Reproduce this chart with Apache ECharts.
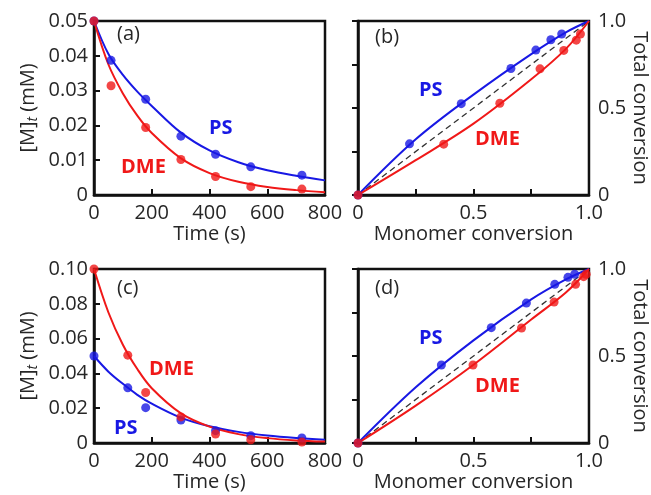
<!DOCTYPE html>
<html><head><meta charset="utf-8">
<script src="https://cdn.jsdelivr.net/npm/echarts@6/dist/echarts.min.js"></script>
<style>html,body{margin:0;padding:0;background:#fff}#c{width:651px;height:495px}</style>
</head><body><div id="c"></div>
<script>
// Panel (a): [M]t vs time
const timeA = [0, 59, 179, 301, 421, 543, 720];
const psA = [0.05, 0.0387, 0.0275, 0.0169, 0.0117, 0.0081, 0.0057];
const dmeA = [0.05, 0.0314, 0.0194, 0.0102, 0.0053, 0.0024, 0.0017];
const fitTime = [0, 50, 100, 150, 200, 300, 400, 500, 600, 700, 800];
const psFitA = [0.05, 0.0405, 0.0345, 0.0297, 0.0256, 0.0180, 0.0128, 0.0094, 0.0071, 0.0055, 0.0042];
const dmeFitA = [0.05, 0.0375, 0.0292, 0.0228, 0.0178, 0.0106, 0.0063, 0.0038, 0.0023, 0.0014, 0.0008];
// Panel (c)
const timeC = [0, 117, 179, 301, 421, 543, 720];
const psC = [0.05, 0.0317, 0.0203, 0.0132, 0.0071, 0.0042, 0.0029];
const dmeC = [0.10, 0.0505, 0.029, 0.015, 0.0052, 0.0019, 0.0006];
const psFitC = [0.05, 0.041, 0.034, 0.0277, 0.0226, 0.0146, 0.0096, 0.0064, 0.0043, 0.0029, 0.0019];
const dmeFitC = [0.10, 0.075, 0.0565, 0.0425, 0.0315, 0.0172, 0.0094, 0.0051, 0.0028, 0.0015, 0.0008];
// Panel (b): total conversion vs monomer conversion
const psBx = [0, 0.223, 0.447, 0.662, 0.770, 0.835, 0.882];
const psBy = [0, 0.294, 0.525, 0.727, 0.833, 0.892, 0.925];
const dmeBx = [0, 0.371, 0.614, 0.788, 0.891, 0.945, 0.963];
const dmeBy = [0, 0.292, 0.527, 0.725, 0.831, 0.890, 0.925];
const fitConv = [0, 0.25, 0.5, 0.75, 0.9, 1];
const psFitB = [0, 0.32, 0.577, 0.81, 0.935, 1];
const dmeFitB = [0, 0.20, 0.41, 0.665, 0.84, 1];
// Panel (d)
const psDx = [0, 0.361, 0.577, 0.729, 0.852, 0.909, 0.938];
const psDy = [0, 0.448, 0.663, 0.804, 0.912, 0.952, 0.970];
const dmeDx = [0, 0.498, 0.708, 0.849, 0.942, 0.977, 0.988];
const dmeDy = [0, 0.448, 0.661, 0.810, 0.912, 0.956, 0.970];
const psFitD = [0, 0.32, 0.59, 0.825, 0.94, 1];
const dmeFitD = [0, 0.215, 0.45, 0.71, 0.865, 1];
const diag = [0, 1];
const timeTicks = [0, 200, 400, 600, 800];
const convTicks = ['0', '0.5', '1.0'];

const BLUE = '#1818e4', RED = '#f01818', TXT = '#262626';
const FONT = '"Open Sans", sans-serif';
const zip = (a, b) => a.map((v, i) => [v, b[i]]);

const grids = [
  {left: 94, top: 21, width: 231, height: 174},
  {left: 358, top: 21, width: 231, height: 174},
  {left: 94, top: 269, width: 231, height: 174},
  {left: 358, top: 269, width: 231, height: 174}
].map(g => Object.assign(g, {show: true, borderColor: '#111', borderWidth: 2.5, backgroundColor: 'transparent'}));

const axisCommon = {
  axisLine: {show: true, lineStyle: {color: '#111', width: 2.5}},
  axisTick: {show: true, inside: true, length: 6, lineStyle: {color: '#111', width: 2}},
  splitLine: {show: false},
  axisLabel: {color: TXT, fontSize: 20, fontFamily: FONT},
  nameTextStyle: {color: TXT, fontSize: 20, fontFamily: FONT},
  nameLocation: 'middle'
};
const convFmt = v => Math.abs(v) < 1e-9 ? '0' : Math.abs(v - 0.5) < 1e-9 ? convTicks[1] : Math.abs(v - 1) < 1e-9 ? convTicks[2] : '';

function timeX(i) {
  return Object.assign({}, axisCommon, {type: 'value', gridIndex: i, min: timeTicks[0], max: timeTicks[timeTicks.length - 1], interval: timeTicks[1] - timeTicks[0],
    name: 'Time (s)', nameGap: 29, axisLabel: Object.assign({}, axisCommon.axisLabel, {margin: 8})});
}
function convX(i) {
  return Object.assign({}, axisCommon, {type: 'value', gridIndex: i, min: 0, max: 1, interval: 0.25,
    name: 'Monomer conversion', nameGap: 29, axisLabel: Object.assign({}, axisCommon.axisLabel, {margin: 8, formatter: convFmt})});
}
function concY(i, max, step) {
  return Object.assign({}, axisCommon, {type: 'value', gridIndex: i, min: 0, max: max, interval: step,
    name: '[M]{t|t} (mM)', nameGap: 54,
    nameTextStyle: Object.assign({}, axisCommon.nameTextStyle, {lineHeight: 24,
      rich: {t: {fontStyle: 'italic', fontSize: 14, fontFamily: FONT, color: TXT, verticalAlign: 'bottom', lineHeight: 14}}}),
    axisLabel: Object.assign({}, axisCommon.axisLabel, {margin: 6, formatter: v => v === 0 ? '0' : v.toFixed(2)})});
}
function convY(i) {
  return Object.assign({}, axisCommon, {type: 'value', gridIndex: i, min: 0, max: 1, interval: 0.25, position: 'right',
    name: 'Total conversion', nameGap: 38, nameRotate: -90,
    axisLabel: Object.assign({}, axisCommon.axisLabel, {margin: 9, formatter: convFmt})});
}

function fitLine(xi, data, color) {
  return {type: 'line', xAxisIndex: xi, yAxisIndex: xi, data: data, smooth: 0.35, showSymbol: false,
    lineStyle: {color: color, width: 2}, z: 3, silent: true};
}
function dots(xi, data, color) {
  return {type: 'scatter', xAxisIndex: xi, yAxisIndex: xi, data: data, symbolSize: 9,
    itemStyle: {color: color}, z: 4, silent: true};
}
function dashed(xi) {
  return {type: 'line', xAxisIndex: xi, yAxisIndex: xi, data: zip(diag, diag), showSymbol: false,
    lineStyle: {color: '#333', width: 1.3, type: [6, 4]}, z: 2, silent: true};
}

function txt(x, y, s, color, bold) {
  return {type: 'text', left: x, top: y, z: 10, style: {text: s, fill: color, font: (bold ? 'bold ' : '') + '20px ' + FONT}};
}

const chart = echarts.init(document.getElementById('c'), null, {renderer: 'canvas'});
chart.setOption({
  animation: false,
  backgroundColor: '#fff',
  grid: grids,
  xAxis: [timeX(0), convX(1), timeX(2), convX(3)],
  yAxis: [concY(0, 0.05, 0.01), convY(1), concY(2, 0.10, 0.02), convY(3)],
  series: [
    fitLine(0, zip(fitTime, psFitA), BLUE), fitLine(0, zip(fitTime, dmeFitA), RED),
    dots(0, zip(timeA, psA), BLUE), dots(0, zip(timeA, dmeA), RED),
    dashed(1), fitLine(1, zip(fitConv, psFitB), BLUE), fitLine(1, zip(fitConv, dmeFitB), RED),
    dots(1, zip(psBx, psBy), BLUE), dots(1, zip(dmeBx, dmeBy), RED),
    fitLine(2, zip(fitTime, psFitC), BLUE), fitLine(2, zip(fitTime, dmeFitC), RED),
    dots(2, zip(timeC, psC), BLUE), dots(2, zip(timeC, dmeC), RED),
    dashed(3), fitLine(3, zip(fitConv, psFitD), BLUE), fitLine(3, zip(fitConv, dmeFitD), RED),
    dots(3, zip(psDx, psDy), BLUE), dots(3, zip(dmeDx, dmeDy), RED)
  ],
  graphic: [
    txt(117, 24, '(a)', TXT), txt(209, 118, 'PS', BLUE, true), txt(121, 157, 'DME', RED, true),
    txt(375, 27, '(b)', TXT), txt(419, 80, 'PS', BLUE, true), txt(475, 129, 'DME', RED, true),
    txt(117, 278, '(c)', TXT), txt(149, 359, 'DME', RED, true), txt(114, 418, 'PS', BLUE, true),
    txt(375, 278, '(d)', TXT), txt(419, 328, 'PS', BLUE, true), txt(475, 376, 'DME', RED, true)
  ]
});
</script></body></html>
